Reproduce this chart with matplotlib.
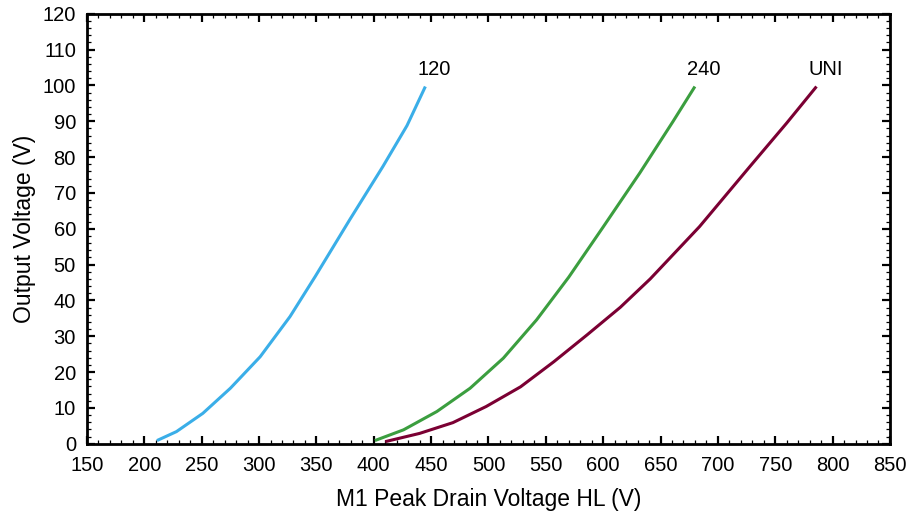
import matplotlib
matplotlib.use("Agg")
import matplotlib.pyplot as plt
from matplotlib.ticker import MultipleLocator

plt.rcParams["font.family"] = ["Liberation Sans", "DejaVu Sans"]

# ── Data ─────────────────────────────────────────────────────────────────────
v120_x = [211, 228, 251, 275, 301, 327, 349, 379, 408, 429, 445]
v120_y = [0.9, 3.4, 8.5, 15.5, 24.3, 35.5, 46.7, 62.5, 77.4, 88.8, 99.7]

v240_x = [401, 426, 455, 484, 513, 542, 570, 600, 632, 661, 680]
v240_y = [0.9, 3.9, 9.0, 15.5, 23.9, 34.6, 46.5, 60.5, 75.6, 90.0, 99.7]

uni_x = [410, 440, 469, 498, 528, 557, 586, 615, 641, 684, 728, 760, 786]
uni_y = [0.6, 2.9, 5.9, 10.4, 15.9, 22.9, 30.4, 38.1, 46.0, 60.6, 77.4, 89.5, 99.7]

series = [
    ("120", v120_x, v120_y, "#3aaee8"),
    ("240", v240_x, v240_y, "#3b9e3f"),
    ("UNI", uni_x, uni_y, "#7b0033"),
]

fig = plt.figure(figsize=(9.09, 5.14), dpi=100)
ax = fig.add_axes([0.0957, 0.1366, 0.8833, 0.8366])

for name, xs, ys, col in series:
    ax.plot(xs, ys, color=col, linewidth=2.2, solid_capstyle="butt",
            solid_joinstyle="round")
    ax.text(xs[-1] + 8, ys[-1] + 2, name, ha="center", va="bottom", fontsize=14.5)

ax.set_xlim(150, 850)
ax.set_ylim(0, 120)
ax.xaxis.set_major_locator(MultipleLocator(50))
ax.xaxis.set_minor_locator(MultipleLocator(10))
ax.yaxis.set_major_locator(MultipleLocator(10))
ax.yaxis.set_minor_locator(MultipleLocator(2))

ax.tick_params(which="both", direction="in", top=True, right=True, labelsize=14.5)
ax.tick_params(which="major", length=6, width=1.6)
ax.tick_params(which="minor", length=3, width=0.9)
ax.tick_params(axis="x", which="major", pad=9)
ax.tick_params(axis="y", which="major", pad=8)
for sp in ax.spines.values():
    sp.set_linewidth(2)

ax.set_xlabel("M1 Peak Drain Voltage HL (V)", fontsize=16.5, labelpad=9)
ax.set_ylabel("Output Voltage (V)", fontsize=16.5, labelpad=5)

fig.savefig("out.png", dpi=100)
